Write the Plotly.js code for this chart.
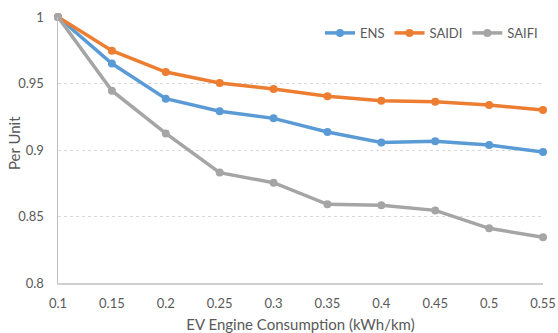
<!DOCTYPE html>
<html>
<head>
<meta charset="utf-8">
<script src="https://cdn.plot.ly/plotly-3.0.1.min.js"></script>
<style>
  html, body { margin: 0; padding: 0; background: #fff; }
  #chart { width: 558px; height: 333px; }
</style>
</head>
<body>
<div id="chart"></div>
<script>
// EV engine consumption (kWh/km)
var consumption = [0.1, 0.15, 0.2, 0.25, 0.3, 0.35, 0.4, 0.45, 0.5, 0.55];

// Reliability indices, per unit
var ens   = [1, 0.965, 0.9386, 0.9291, 0.9238, 0.9135, 0.9057, 0.9066, 0.9038, 0.8985];
var saidi = [1, 0.9747, 0.9586, 0.9504, 0.9459, 0.9404, 0.9371, 0.9363, 0.9338, 0.930];
var saifi = [1, 0.9446, 0.9125, 0.8830, 0.8754, 0.8592, 0.8584, 0.8546, 0.8411, 0.8344];

var seriesNames = ['ENS', 'SAIDI', 'SAIFI'];
var seriesColors = ['#5B9BD5', '#ED7D31', '#A5A5A5'];
var seriesValues = [ens, saidi, saifi];

var font = "Lato, 'Open Sans', 'DejaVu Sans', sans-serif";
var textColor = '#595959';

var traces = seriesValues.map(function (vals, i) {
  return {
    x: consumption,
    y: vals,
    name: seriesNames[i],
    type: 'scatter',
    mode: 'lines+markers',
    line: { color: seriesColors[i], width: 3.5 },
    marker: { color: seriesColors[i], size: 8 },
    cliponaxis: false
  };
});

var layout = {
  width: 558,
  height: 333,
  margin: { l: 58, r: 15, t: 17, b: 50 },
  paper_bgcolor: '#ffffff',
  plot_bgcolor: '#ffffff',
  font: { family: font, size: 13, color: textColor },
  showlegend: true,
  legend: {
    orientation: 'h',
    x: 1, xanchor: 'right',
    y: 0.94, yanchor: 'middle',
    font: { family: font, size: 13, color: textColor },
    bgcolor: 'rgba(0,0,0,0)',
    itemwidth: 30,
    traceorder: 'normal'
  },
  xaxis: {
    range: [0.1, 0.55],
    tick0: 0.1,
    dtick: 0.05,
    showgrid: false,
    zeroline: false,
    showline: true,
    linecolor: '#d0d0d0',
    linewidth: 1.5,
    ticks: '',
    ticklabelstandoff: 8,
    tickfont: { family: font, size: 13, color: textColor },
    title: { text: 'EV Engine Consumption (kWh/km)', standoff: 12,
             font: { family: font, size: 15, color: textColor } },
    automargin: false
  },
  yaxis: {
    range: [0.8, 1],
    tick0: 0.8,
    dtick: 0.05,
    showgrid: true,
    gridcolor: '#d9d9d9',
    griddash: 'dot',
    gridwidth: 1,
    zeroline: false,
    showline: true,
    linecolor: '#bfbfbf',
    linewidth: 1.5,
    ticks: '',
    ticklabelstandoff: 10,
    tickfont: { family: font, size: 13, color: textColor },
    automargin: false
  },
  // y-axis title placed as a rotated annotation so it sits beside the short labels
  annotations: [{
    text: 'Per Unit',
    xref: 'paper', yref: 'paper',
    x: -44 / 485, y: 0.526,
    xanchor: 'center', yanchor: 'middle',
    textangle: -90,
    showarrow: false,
    font: { family: font, size: 15, color: textColor }
  }]
};

Plotly.newPlot('chart', traces, layout, { displayModeBar: false, staticPlot: true });
</script>
</body>
</html>
